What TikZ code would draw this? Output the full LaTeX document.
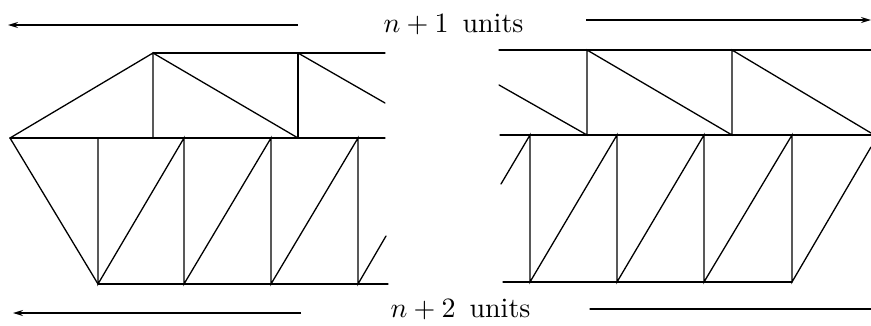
\documentclass[tikz,border=0pt]{standalone}
\usetikzlibrary{arrows.meta}
\begin{document}
\begin{tikzpicture}[x=1pt,y=-1pt,
  edge/.style={line width=1.3pt,line cap=round},
  dim/.style={line width=1.3pt,-{Stealth[length=10pt,width=6pt]}},
  lab/.style={scale=2.8,inner sep=0pt,anchor=base west}]
\useasboundingbox (0,0) rectangle (871,325);
% ---------- labels and dimension arrows ----------
\node[lab] (t1) at (383,32) {$n+1$\enspace units};
\node[lab] (t2) at (390,317) {$n+2$\enspace units};
\coordinate (a1s) at (298,25); \coordinate (a1e) at (8,25);
\coordinate (a2s) at (586,20); \coordinate (a2e) at (871,20);
\coordinate (a3s) at (301,313); \coordinate (a3e) at (13,313);
\coordinate (a4s) at (590,309); \coordinate (a4e) at (871,309);
\draw[dim] (a1s) -- (a1e);
\draw[dim] (a2s) -- (a2e);
\draw[dim] (a3s) -- (a3e);
\draw[edge] (a4s) -- (a4e);
% ---------- left part ----------
\coordinate (A) at (10,138);
\coordinate (P) at (153,53);
\coordinate (Q) at (153,138);
\coordinate (R) at (298,53);
\coordinate (S) at (298,138);
\coordinate (TE) at (385,53);
\coordinate (ME) at (385,138);
\coordinate (RD) at (385,103);
\draw[edge] (P) -- (TE);
\draw[edge] (A) -- (ME);
\draw[edge] (A) -- (P) -- (Q);
\draw[edge] (P) -- (S);
\draw[edge] (R) -- (S);
\draw[edge] (R) -- (RD);
% lower left
\coordinate (B1) at (98,284); \coordinate (U1) at (98,138);
\coordinate (B2) at (184,284); \coordinate (U2) at (184,138);
\coordinate (B3) at (271,284); \coordinate (U3) at (271,138);
\coordinate (B4) at (358,284); \coordinate (U4) at (358,138);
\coordinate (BE) at (388,284); \coordinate (LD) at (386,236);
\draw[edge] (B1) -- (BE);
\draw[edge] (A) -- (B1);
\draw[edge] (U1) -- (B1) -- (U2) -- (B2) -- (U3) -- (B3) -- (U4) -- (B4) -- (LD);
% ---------- right part ----------
\coordinate (rT0) at (499,50); \coordinate (rTE) at (871,50);
\coordinate (rM0) at (500,135); \coordinate (rME) at (871,135);
\coordinate (rPD) at (499,85);
\coordinate (V1t) at (587,50); \coordinate (V1b) at (587,135);
\coordinate (V2t) at (732,50); \coordinate (V2b) at (732,135);
\coordinate (rDE) at (871,133);
\draw[edge] (rT0) -- (rTE);
\draw[edge] (rM0) -- (rME);
\draw[edge] (rPD) -- (V1b) -- (V1t) -- (V2b) -- (V2t) -- (rDE);
% lower right
\coordinate (W1t) at (530,135); \coordinate (W1b) at (530,282);
\coordinate (W2t) at (617,135); \coordinate (W2b) at (617,282);
\coordinate (W3t) at (704,135); \coordinate (W3b) at (704,282);
\coordinate (W4t) at (792,135); \coordinate (W4b) at (792,282);
\coordinate (rB0) at (503,282);
\coordinate (rLD) at (501,184);
\coordinate (rRD) at (871,147);
\draw[edge] (rB0) -- (W4b);
\draw[edge] (rLD) -- (W1t) -- (W1b) -- (W2t) -- (W2b) -- (W3t) -- (W3b) -- (W4t) -- (W4b) -- (rRD);
\end{tikzpicture}
\end{document}
